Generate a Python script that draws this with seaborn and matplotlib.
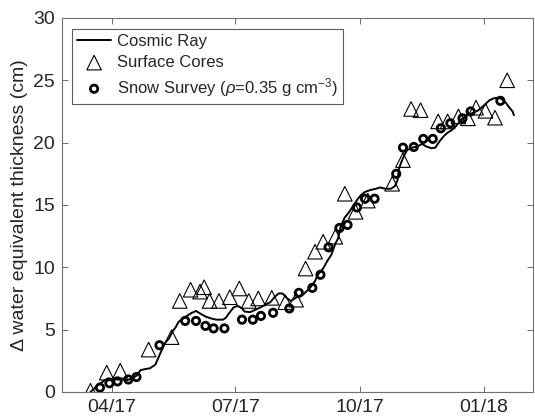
import matplotlib
matplotlib.use("Agg")
import matplotlib.pyplot as plt
import matplotlib.dates as mdates
import pandas as pd
import seaborn as sns

# Cosmic-ray derived change in snow water equivalent (cm)
cosmic_dates = [
    "2017-03-16", "2017-03-21", "2017-03-26", "2017-03-29", "2017-04-01", "2017-04-05",
    "2017-04-09", "2017-04-12", "2017-04-15", "2017-04-19", "2017-04-22", "2017-04-26",
    "2017-04-29", "2017-05-03", "2017-05-05", "2017-05-07", "2017-05-10", "2017-05-13",
    "2017-05-16", "2017-05-18", "2017-05-20", "2017-05-22", "2017-05-25", "2017-05-29",
    "2017-06-02", "2017-06-05", "2017-06-09", "2017-06-13", "2017-06-17", "2017-06-22",
    "2017-06-24", "2017-06-27", "2017-06-30", "2017-07-03", "2017-07-06", "2017-07-08",
    "2017-07-12", "2017-07-16", "2017-07-20", "2017-07-23", "2017-07-27", "2017-07-30",
    "2017-08-02", "2017-08-05", "2017-08-08", "2017-08-11", "2017-08-14", "2017-08-17",
    "2017-08-20", "2017-08-23", "2017-08-26", "2017-08-29", "2017-08-31", "2017-09-04",
    "2017-09-07", "2017-09-10", "2017-09-13", "2017-09-15", "2017-09-17", "2017-09-20",
    "2017-09-23", "2017-09-26", "2017-09-29", "2017-10-02", "2017-10-05", "2017-10-09",
    "2017-10-13", "2017-10-16", "2017-10-20", "2017-10-24", "2017-10-27", "2017-10-29",
    "2017-10-30", "2017-11-01", "2017-11-03", "2017-11-05", "2017-11-09", "2017-11-13",
    "2017-11-16", "2017-11-19", "2017-11-23", "2017-11-26", "2017-11-29", "2017-12-02",
    "2017-12-05", "2017-12-08", "2017-12-11", "2017-12-14", "2017-12-16", "2017-12-20",
    "2017-12-24", "2017-12-27", "2017-12-30", "2018-01-02", "2018-01-05", "2018-01-08",
    "2018-01-11", "2018-01-14", "2018-01-17", "2018-01-19", "2018-01-22", "2018-01-23",
]
cosmic_swe = [
    0.0, 0.5, 0.9, 1.1, 1.05, 1.0,
    1.0, 0.95, 1.05, 1.3, 1.75, 1.85,
    1.9, 2.2, 2.7, 3.2, 3.9, 4.3,
    4.9, 5.2, 5.6, 5.8, 6.0, 6.3,
    6.5, 6.3, 6.05, 5.9, 5.8, 5.8,
    5.95, 6.4, 6.8, 6.9, 6.7, 6.45,
    6.4, 6.6, 6.8, 7.0, 7.2, 7.6,
    7.9, 7.9, 7.55, 7.3, 7.5, 7.7,
    7.8, 8.1, 8.45, 8.9, 9.4, 9.9,
    10.5, 11.0, 11.9, 12.3, 13.3, 14.0,
    14.4, 14.9, 15.4, 15.8, 16.05, 16.2,
    16.3, 16.4, 16.3, 16.3, 16.5, 17.0,
    17.9, 18.5, 19.0, 19.4, 19.6, 19.7,
    19.9, 19.7, 19.55, 19.6, 20.1, 20.5,
    20.8, 21.0, 21.3, 21.7, 21.95, 22.2,
    22.4, 22.55, 22.8, 23.1, 23.4, 23.55,
    23.6, 23.5, 23.2, 22.9, 22.5, 22.2,
]

# Surface core measurements
core_dates = [
    "2017-03-16", "2017-03-28", "2017-04-07", "2017-04-28", "2017-05-15", "2017-05-21",
    "2017-05-29", "2017-06-05", "2017-06-08", "2017-06-12", "2017-06-19", "2017-06-27",
    "2017-07-04", "2017-07-11", "2017-07-18", "2017-07-28", "2017-08-07", "2017-08-15",
    "2017-08-22", "2017-08-29", "2017-09-04", "2017-09-13", "2017-09-20", "2017-09-28",
    "2017-10-07", "2017-10-25", "2017-11-02", "2017-11-08", "2017-11-15", "2017-11-28",
    "2017-12-05", "2017-12-13", "2017-12-20", "2017-12-26", "2018-01-02", "2018-01-09",
    "2018-01-18",
]
core_swe = [
    0.1, 1.55, 1.7, 3.4, 4.4, 7.3,
    8.2, 8.05, 8.4, 7.3, 7.3, 7.6,
    8.3, 7.3, 7.5, 7.55, 7.2, 7.4,
    9.9, 11.25, 12.05, 12.45, 15.9, 14.45,
    15.35, 16.7, 18.6, 22.7, 22.6, 21.7,
    21.7, 22.1, 21.95, 22.8, 22.55, 22.0,
    25.0,
]

# Snow survey depths converted with a bulk density of 0.35 g cm^-3
survey_dates = [
    "2017-03-23", "2017-03-30", "2017-04-05", "2017-04-13", "2017-04-19", "2017-05-06",
    "2017-05-25", "2017-06-02", "2017-06-09", "2017-06-15", "2017-06-23", "2017-07-06",
    "2017-07-14", "2017-07-20", "2017-07-29", "2017-08-10", "2017-08-17", "2017-08-27",
    "2017-09-02", "2017-09-08", "2017-09-16", "2017-09-22", "2017-09-29", "2017-10-05",
    "2017-10-12", "2017-10-28", "2017-11-02", "2017-11-10", "2017-11-17", "2017-11-24",
    "2017-11-30", "2017-12-07", "2017-12-16", "2017-12-22", "2018-01-13",
]
survey_swe = [
    0.35, 0.7, 0.85, 1.0, 1.2, 3.75,
    5.7, 5.7, 5.3, 5.1, 5.1, 5.8,
    5.8, 6.1, 6.35, 6.7, 7.95, 8.35,
    9.4, 11.6, 13.15, 13.4, 14.8, 15.5,
    15.5, 17.5, 19.6, 19.65, 20.3, 20.3,
    21.15, 21.55, 21.95, 22.5, 23.35,
]

tick_dates = ["2017-04-01", "2017-07-01", "2017-10-01", "2018-01-01"]
y_ticks = [0, 5, 10, 15, 20, 25, 30]

cosmic = pd.DataFrame({"date": pd.to_datetime(cosmic_dates), "swe": cosmic_swe})
cores = pd.DataFrame({"date": pd.to_datetime(core_dates), "swe": core_swe})
survey = pd.DataFrame({"date": pd.to_datetime(survey_dates), "swe": survey_swe})

sns.set_style("white")
plt.rcParams["font.family"] = ["Liberation Sans", "DejaVu Sans"]
plt.rcParams["mathtext.fontset"] = "custom"
plt.rcParams["mathtext.rm"] = "Liberation Sans"
plt.rcParams["mathtext.it"] = "Liberation Sans:italic"

fig = plt.figure(figsize=(5.35, 4.17), dpi=100)
ax = fig.add_axes([0.116, 0.06, 0.88, 0.897])

sns.lineplot(data=cosmic, x="date", y="swe", ax=ax, color="black", lw=1.4,
             label="Cosmic Ray", zorder=2)
sns.scatterplot(data=cores, x="date", y="swe", ax=ax, marker="^", s=110,
                facecolor="none", edgecolor="black", linewidth=0.8,
                label="Surface Cores", zorder=3)
sns.scatterplot(data=survey, x="date", y="swe", ax=ax, marker="o", s=28,
                facecolor="none", edgecolor="black", linewidth=2.0,
                label=r"Snow Survey ($\rho$=0.35 g cm$^{-3}$)", zorder=4)

ax.set_xlim(pd.Timestamp("2017-02-23"), pd.Timestamp("2018-02-06"))
ax.set_ylim(0, 30)
ax.set_xticks(pd.to_datetime(tick_dates))
ax.xaxis.set_major_formatter(mdates.DateFormatter("%m/%y"))
ax.set_yticks(y_ticks)
ax.set_xlabel("")
ax.set_ylabel("Δ water equivalent thickness (cm)", fontsize=14, color="#262626")

ax.tick_params(direction="in", length=4, width=0.6, color="#555555",
               labelsize=14, labelcolor="#262626", top=True, right=True,
               bottom=True, left=True, pad=5)
for sp in ax.spines.values():
    sp.set_visible(True)
    sp.set_color("#707070")
    sp.set_linewidth(0.8)

leg = ax.legend(loc="upper left", bbox_to_anchor=(0.022, 0.97), fontsize=12,
                frameon=True, fancybox=False, edgecolor="#333333",
                handlelength=2.0, handletextpad=0.4, borderpad=0.3,
                labelspacing=0.35, borderaxespad=0.0)
leg.get_frame().set_linewidth(0.8)

fig.savefig("out.png", dpi=100)
